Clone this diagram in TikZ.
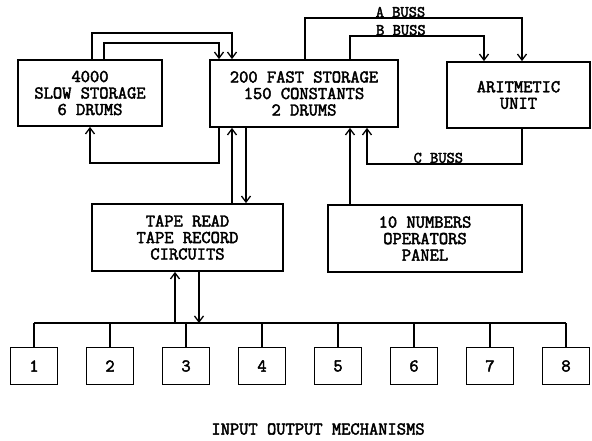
\documentclass[tikz,border=0pt]{standalone}
\usepackage{fontspec}
\setmonofont{Latin Modern Mono}[AutoFakeBold=2.5]
\usetikzlibrary{arrows.meta,positioning,calc}
\newcommand{\typefont}{\ttfamily\bfseries\fontsize{18}{16.5}\selectfont}
\newcommand{\bussfont}{\ttfamily\bfseries\fontsize{16}{16}\selectfont}
\tikzset{
  unit/.style={draw,line width=1.8pt,font=\typefont,align=center,inner sep=0pt},
  iobox/.style={draw,line width=1.8pt,font=\typefont,minimum width=47pt,minimum height=37pt,inner sep=0pt},
  wire/.style={line width=1.3pt},
  arr/.style={wire,-{Straight Barb[length=6pt,width=9pt]}},
  buss/.style={font=\bussfont,inner sep=0pt,text height=9pt,text depth=0pt},
}

\begin{document}
\begin{tikzpicture}[x=1pt,y=-1pt]
\useasboundingbox (0,0) rectangle (592,440);
% main units
\node[unit,minimum width=144pt,minimum height=66pt] (slow) at (90,93)
  {4000\\SLOW STORAGE\\6 DRUMS};
\node[unit,minimum width=188pt,minimum height=67pt] (fast) at (304,93.5)
  {200 FAST STORAGE\\150 CONSTANTS\\2 DRUMS};
\node[unit,minimum width=143pt,minimum height=66pt] (arith) at (518.5,95)
  {ARITMETIC\\UNIT};
\node[unit,minimum width=191pt,minimum height=67pt] (tape) at (187.5,237.5)
  {TAPE READ\\TAPE RECORD\\CIRCUITS};
\node[unit,minimum width=194pt,minimum height=67pt] (panel) at (425,238.5)
  {10 NUMBERS\\OPERATORS\\PANEL};
% slow <-> fast storage
\draw[arr] ([xshift=2pt]slow.north) -- ++(0,-26) -| ([xshift=-72pt]fast.north);
\draw[arr] ([xshift=14pt]slow.north) -- ++(0,-16) -| ([xshift=-85pt]fast.north);
\draw[arr] ([xshift=-85pt]fast.south) -- ++(0,35) -| (slow.south);
% busses
\draw[arr] ([xshift=1pt]fast.north) -- ++(0,-41)
  -| node[buss,pos=0.22,above=0.5pt] {A BUSS} ([xshift=3.5pt]arith.north);
\draw[arr] ([xshift=46pt]fast.north) -- ++(0,-23)
  -| node[buss,pos=0.19,above=0.5pt] {B BUSS} ([xshift=-34.5pt]arith.north);
\draw[arr] ([xshift=3.5pt]arith.south) -- ++(0,35)
  -| node[buss,pos=0.27,above=0.5pt] {C BUSS} ([xshift=63pt]fast.south);
% tape and panel
\draw[arr] ([xshift=-72pt]fast.south |- tape.north) -- ([xshift=-72pt]fast.south);
\draw[arr] ([xshift=-58pt]fast.south) -- ([xshift=-58pt]fast.south |- tape.north);
\draw[arr] ([xshift=46pt]fast.south |- panel.north) -- ([xshift=46pt]fast.south);
% input output mechanisms
\coordinate (bus) at (0,323);
\foreach \i in {1,...,8}
  \node[iobox] (b\i) at ({34+76*(\i-1)},366) {\i};
\draw[wire] (b1.north |- bus) -- (b8.north |- bus);
\foreach \i in {1,...,8}
  \draw[wire] (b\i.north) -- (b\i.north |- bus);
\draw[arr] ([xshift=-12.5pt]tape.south |- bus) -- ([xshift=-12.5pt]tape.south);
\draw[arr] ([xshift=11.5pt]tape.south) -- ([xshift=11.5pt]tape.south |- bus);
\node[font=\typefont] (caption) at (318,429) {INPUT OUTPUT MECHANISMS};
\end{tikzpicture}
\end{document}
